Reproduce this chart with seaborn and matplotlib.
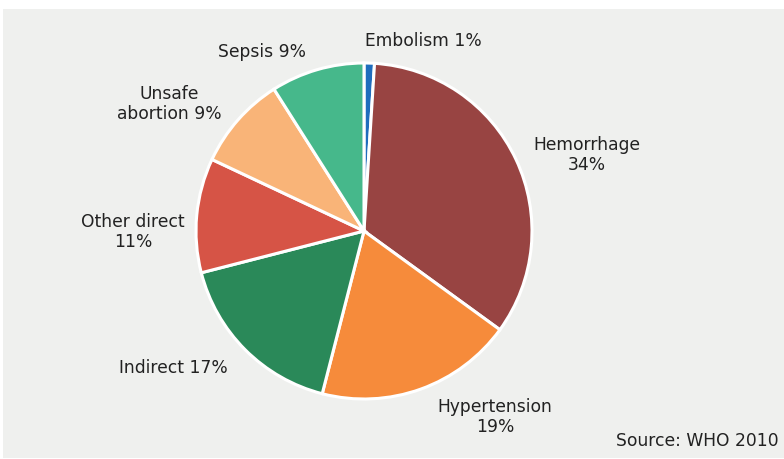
import matplotlib
matplotlib.use("Agg")
import matplotlib.pyplot as plt
import seaborn as sns
from matplotlib.patches import Rectangle

categories = ["Embolism", "Hemorrhage", "Hypertension", "Indirect",
              "Other direct", "Unsafe abortion", "Sepsis"]
values = [1, 34, 19, 17, 11, 9, 9]
label_texts = ["Embolism 1%", "Hemorrhage\n34%", "Hypertension\n19%",
               "Indirect 17%", "Other direct\n11%", "Unsafe\nabortion 9%",
               "Sepsis 9%"]
colors = ["#1f6dbd", "#984442", "#f68b3b", "#2a8959", "#d65446",
          "#f9b478", "#46b88b"]

sns.set_theme(style="white")
plt.rcParams["font.family"] = ["DejaVu Sans"]

W, H = 784, 459
fig = plt.figure(figsize=(W / 100, H / 100), dpi=100)
fig.patch.set_facecolor("white")
fig.patches.append(Rectangle((3 / W, 1 / H), (W - 3) / W, (458 - 8 - 1) / H,
                             transform=fig.transFigure, facecolor="#eff0ee",
                             edgecolor="none", zorder=-5))

ax = fig.add_axes([0, 0, 1, 1])
ax.set_facecolor("none")
cx, cy, r = 364, 231, 168

palette = sns.color_palette(colors)
ax.pie(values, colors=palette, startangle=90, counterclock=False,
       radius=1.0, wedgeprops=dict(edgecolor="white", linewidth=2.2))
ax.set_aspect("auto")
ax.set_xlim(-cx / r, (W - cx) / r)
ax.set_ylim(-(H - cy) / r, cy / r)
ax.axis("off")

def px(x, y):
    return ((x - cx) / r, (cy - y) / r)

label_pos = [(423, 41), (587, 155), (495, 417), (173, 368), (133, 232),
             (169, 104), (262, 52)]
for txt, (x, y) in zip(label_texts, label_pos):
    ax.text(*px(x, y), txt, ha="center", va="center", fontsize=12.3,
            color="#222222", linespacing=1.2)

ax.text(*px(779, 441), "Source: WHO 2010", ha="right", va="center",
        fontsize=12.3, color="#222222")

fig.savefig("out.png", dpi=100, facecolor=fig.get_facecolor())
